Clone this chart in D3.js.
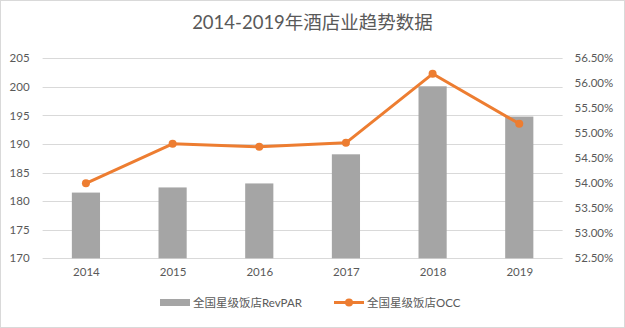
<!DOCTYPE html>
<html>
<head>
<meta charset="utf-8">
<script src="https://cdn.jsdelivr.net/npm/d3@7"></script>
<style>
  html, body { margin: 0; padding: 0; background: #fff; }
  svg { display: block; }
  text { font-family: Lato, "Noto Sans CJK SC", sans-serif; fill: #595959; }
</style>
</head>
<body>
<svg id="chart" width="625" height="328"></svg>
<script>
// Hotel industry trend data, 2014-2019
const years = ["2014", "2015", "2016", "2017", "2018", "2019"];
const revpar = [181.5, 182.4, 183.1, 188.2, 200.1, 194.8];
const occ = [54.00, 54.79, 54.73, 54.81, 56.19, 55.19];
const leftTicks = [170, 175, 180, 185, 190, 195, 200, 205];
const rightTicks = [52.5, 53, 53.5, 54, 54.5, 55, 55.5, 56, 56.5];
const seriesNames = ["全国星级饭店RevPAR", "全国星级饭店OCC"];
const title = "2014-2019年酒店业趋势数据";

const W = 625, H = 328;
const plot = { left: 42.6, right: 562.6, top: 58.3, bottom: 258.3 };
const barColor = "#A5A5A5", lineColor = "#ED7D31", gridColor = "#D9D9D9";

const svg = d3.select("#chart");

// outer frame
svg.append("rect")
  .attr("x", 0.5).attr("y", 0.5).attr("width", W - 1).attr("height", H - 1)
  .attr("fill", "#fff").attr("stroke", "#D9D9D9").attr("stroke-width", 1);

svg.append("text")
  .attr("x", W / 2).attr("y", 29)
  .attr("text-anchor", "middle")
  .attr("font-size", 18.5)
  .text(title);

const x = d3.scaleBand().domain(years).range([plot.left, plot.right]).paddingInner(0.675).paddingOuter(0.3375);
const xc = d3.scalePoint().domain(years).range([plot.left, plot.right]).padding(0.5);
const yL = d3.scaleLinear().domain([170, 205]).range([plot.bottom, plot.top]);
const yR = d3.scaleLinear().domain([52.5, 56.5]).range([plot.bottom, plot.top]);

// gridlines
svg.append("g").selectAll("line").data(leftTicks).join("line")
  .attr("x1", plot.left).attr("x2", plot.right)
  .attr("y1", d => Math.round(yL(d)) + 0.5).attr("y2", d => Math.round(yL(d)) + 0.5)
  .attr("stroke", gridColor).attr("stroke-width", 1);

// left axis
const leftAxis = svg.append("g")
  .attr("transform", `translate(${plot.left},0)`)
  .call(d3.axisLeft(yL).tickValues(leftTicks).tickSize(0).tickPadding(13));
leftAxis.select(".domain").remove();
leftAxis.selectAll("text").attr("font-size", 11.5).attr("fill", "#595959").attr("font-family", "Lato, sans-serif");

// right axis
const rightAxis = svg.append("g")
  .attr("transform", `translate(${plot.right},0)`)
  .call(d3.axisRight(yR).tickValues(rightTicks).tickSize(0).tickPadding(12)
    .tickFormat(d => d.toFixed(2) + "%"));
rightAxis.select(".domain").remove();
rightAxis.selectAll("text").attr("font-size", 11.5).attr("fill", "#595959").attr("font-family", "Lato, sans-serif");

// bottom axis
const bottomAxis = svg.append("g")
  .attr("transform", `translate(0,${plot.bottom})`)
  .call(d3.axisBottom(xc).tickSize(0).tickPadding(10));
bottomAxis.select(".domain").remove();
bottomAxis.selectAll("text").attr("font-size", 11.5).attr("fill", "#595959").attr("font-family", "Lato, sans-serif");

// bars
svg.append("g").selectAll("rect").data(years).join("rect")
  .attr("x", d => x(d))
  .attr("width", x.bandwidth())
  .attr("y", (d, i) => yL(revpar[i]))
  .attr("height", (d, i) => yL(170) - yL(revpar[i]))
  .attr("fill", barColor);

// OCC line
const line = d3.line().x((d, i) => xc(years[i])).y(d => yR(d));
svg.append("path").datum(occ)
  .attr("d", line)
  .attr("fill", "none").attr("stroke", lineColor).attr("stroke-width", 3)
  .attr("stroke-linejoin", "round").attr("stroke-linecap", "round");
svg.append("g").selectAll("circle").data(occ).join("circle")
  .attr("cx", (d, i) => xc(years[i])).attr("cy", d => yR(d))
  .attr("r", 4).attr("fill", lineColor);

// legend
const lg = svg.append("g");
lg.append("rect").attr("x", 160).attr("y", 299).attr("width", 30).attr("height", 7).attr("fill", barColor);
lg.append("text").attr("x", 193).attr("y", 307).attr("font-size", 11.5).text(seriesNames[0]);
lg.append("line").attr("x1", 334).attr("x2", 364).attr("y1", 302.5).attr("y2", 302.5)
  .attr("stroke", lineColor).attr("stroke-width", 3);
lg.append("circle").attr("cx", 349).attr("cy", 302.5).attr("r", 4).attr("fill", lineColor);
lg.append("text").attr("x", 367).attr("y", 307).attr("font-size", 11.5).text(seriesNames[1]);
</script>
</body>
</html>
